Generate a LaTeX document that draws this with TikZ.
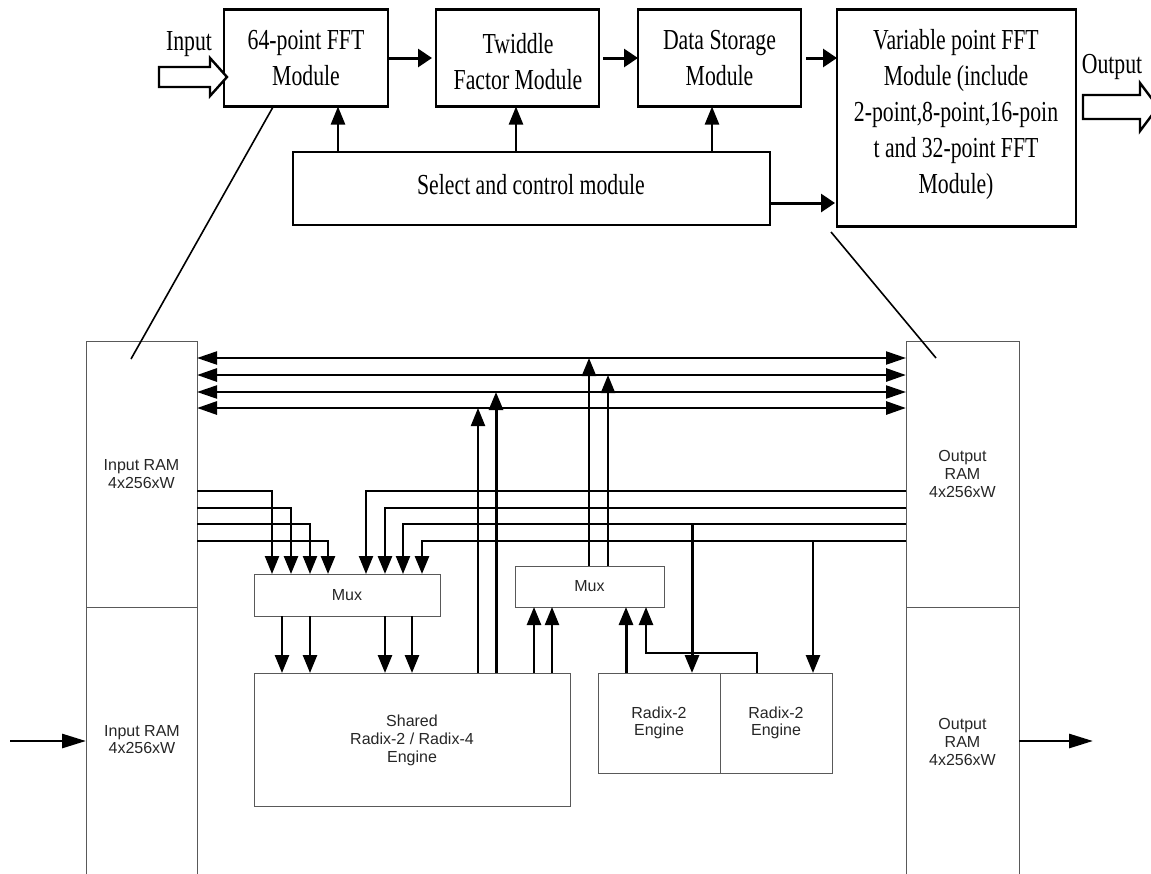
\documentclass[tikz,border=0pt]{standalone}
\usepackage{fontspec}
\usetikzlibrary{arrows.meta}
\newfontfamily\capfamily[FakeStretch=0.75]{Liberation Serif}
\newfontfamily\lowfamily{Liberation Sans}
\tikzset{
  modbox/.style={draw,line width=2.6pt,inner sep=0pt,outer sep=0pt,align=center,font=\capfamily\fontsize{29}{36}\selectfont},
  capt/.style={inner sep=0pt,align=center,font=\capfamily\fontsize{29}{36}\selectfont},
  lowbox/.style={draw=black!65,line width=1pt,inner sep=0pt,outer sep=0pt,align=center,text=black!85,font=\lowfamily\fontsize{16}{17.7}\selectfont},
  hop/.style={line width=3pt,-{Triangle[length=14pt,width=18pt]}},
  vup/.style={line width=2.4pt,-{Triangle[length=18pt,width=14pt]}},
  vin/.style={line width=#1,-{Triangle[length=18pt,width=14pt]}},
  bus/.style={line width=#1,{Triangle[length=20pt,width=13pt]}-{Triangle[length=20pt,width=13pt]}},
  ext/.style={line width=2.8pt,-{Triangle[length=24pt,width=14pt]}}
}
\begin{document}
\begin{tikzpicture}[x=1pt,y=-1pt]
\useasboundingbox (0,0) rectangle (1151,873);
% upper chain
\node[modbox,minimum width=164pt,minimum height=97pt] (fft) at (306,58) {64-point FFT\\Module};
\node[modbox,minimum width=163pt,minimum height=97pt] (twd) at (517.5,58) {};
\node[capt] (twdlab) at (518,62) {Twiddle\\Factor Module};
\node[modbox,minimum width=163pt,minimum height=97pt] (sto) at (719.5,58) {Data Storage\\Module};
\node[modbox,minimum width=239pt,minimum height=217pt] (var) at (956.5,118) {};
\node[capt] (varlab) at (956,115) {Variable point FFT\\Module (include\\2-point,8-point,16-poin\\t and 32-point FFT\\Module)};
\node[modbox,minimum width=477pt,minimum height=73pt] (sel) at (531.5,188.5) {};
\node[capt] (sellab) at (531,185) {Select and control module};
\node[capt] (inlab) at (189,44) {Input};
\node[capt] (outlab) at (1112,67) {Output};
\draw[line width=2.4pt,fill=white] (159,67) -- (210,67) -- (210,58) -- (227,77) -- (210,96) -- (210,87) -- (159,87) -- cycle;
\draw[line width=2.4pt,fill=white] (1083,95) -- (1140,95) -- (1140,83) -- (1158,107) -- (1140,131) -- (1140,119) -- (1083,119) -- cycle;
\draw[hop] (fft.east) -- +(44,0);
\draw[hop] (603,58) -- (twd.east -| sto.west);
\draw[hop] (sto.east) ++(5,0) -- (var.west |- sto.east);
\coordinate (ctla) at (338,0);
\coordinate (ctlb) at (516,0);
\coordinate (ctlc) at (712,0);
\coordinate (ctld) at (0,203);
\draw[vup] (sel.north -| ctla) -- (fft.south -| ctla);
\draw[vup] (sel.north -| ctlb) -- (twd.south -| ctlb);
\draw[vup] (sel.north -| ctlc) -- (sto.south -| ctlc);
\draw[hop,shorten >=2pt] (sel.east |- ctld) -- (var.west |- ctld);
% lower blocks
\node[lowbox,minimum width=111pt,minimum height=266pt] (inup) at (141.5,474) {Input RAM\\4x256xW};
\node[lowbox,minimum width=111pt,minimum height=270pt] (inlow) at (141.5,742) {};
\node[lowbox,draw=none] (inlowlab) at (142,739.5) {Input RAM\\4x256xW};
\node[lowbox,minimum width=113pt,minimum height=266pt] (outup) at (962.5,474) {Output\\RAM\\4x256xW};
\node[lowbox,minimum width=113pt,minimum height=270pt] (outlow) at (962.5,742) {Output\\RAM\\4x256xW};
\node[lowbox,minimum width=186pt,minimum height=42pt] (muxa) at (347,595) {Mux};
\node[lowbox,minimum width=149pt,minimum height=41pt] (muxb) at (589.5,586.5) {Mux};
\node[lowbox,minimum width=316pt,minimum height=133pt] (shr) at (412,739.5) {};
\node[lowbox,draw=none] (shrlab) at (412,740.5) {Shared\\Radix-2 / Radix-4\\Engine};
\node[lowbox,minimum width=122pt,minimum height=100pt] (rada) at (659,723) {Radix-2\\Engine};
\node[lowbox,minimum width=112pt,minimum height=100pt] (radb) at (776,723) {Radix-2\\Engine};
% zoom lines
\draw[line width=1.6pt] (273,107) -- (131,359);
\draw[line width=1.6pt] (831,232) -- (936,358);
% buses
\coordinate (busa) at (0,358);
\coordinate (busb) at (0,375);
\coordinate (busc) at (0,392);
\coordinate (busd) at (0,408);
\draw[bus=2.2pt] (inup.east |- busa) -- (outup.west |- busa);
\draw[bus=2.9pt] (inup.east |- busb) -- (outup.west |- busb);
\draw[bus=2.2pt] (inup.east |- busc) -- (outup.west |- busc);
\draw[bus=2.9pt] (inup.east |- busd) -- (outup.west |- busd);
% ram lanes
\coordinate (rama) at (0,491);
\coordinate (ramb) at (0,508);
\coordinate (ramc) at (0,524);
\coordinate (ramd) at (0,541);
\coordinate (ia) at (272,0);
\coordinate (ib) at (291,0);
\coordinate (ic) at (310,0);
\coordinate (id) at (328,0);
\coordinate (ie) at (366,0);
\coordinate (if) at (385,0);
\coordinate (ig) at (403,0);
\coordinate (ih) at (422,0);
\draw[vin=2.2pt] (inup.east |- rama) -| (muxa.north -| ia);
\draw[vin=2.6pt] (inup.east |- ramb) -| (muxa.north -| ib);
\draw[vin=2.2pt] (inup.east |- ramc) -| (muxa.north -| ic);
\draw[vin=2.6pt] (inup.east |- ramd) -| (muxa.north -| id);
\draw[vin=2.2pt] (outup.west |- rama) -| (muxa.north -| ie);
\draw[vin=2.9pt] (outup.west |- ramb) -| (muxa.north -| if);
\draw[vin=2.2pt] (outup.west |- ramc) -| (muxa.north -| ig);
\draw[vin=2.9pt] (outup.west |- ramd) -| (muxa.north -| ih);
% mux to engine
\coordinate (oa) at (282,0);
\coordinate (ob) at (310,0);
\coordinate (oc) at (385,0);
\coordinate (od) at (412,0);
\draw[vin=2.6pt] (muxa.south -| oa) -- (shr.north -| oa);
\draw[vin=2.6pt] (muxa.south -| ob) -- (shr.north -| ob);
\draw[vin=2.6pt] (muxa.south -| oc) -- (shr.north -| oc);
\draw[vin=2.6pt] (muxa.south -| od) -- (shr.north -| od);
% back to buses
\coordinate (ua) at (478,0);
\coordinate (ub) at (496,0);
\coordinate (uc) at (589,0);
\coordinate (ud) at (608,0);
\draw[vin=2.2pt] (shr.north -| ua) -- (ua |- busd);
\draw[vin=3pt] (shr.north -| ub) -- (ub |- busc);
\draw[vin=2.6pt] (muxb.north -| uc) -- (uc |- busa);
\draw[vin=2.4pt] (muxb.north -| ud) -- (ud |- busb);
% into second mux
\coordinate (ma) at (534,0);
\coordinate (mb) at (552,0);
\coordinate (mc) at (626,0);
\coordinate (md) at (646,0);
\coordinate (me) at (757,653);
\draw[vin=2.6pt] (shr.north -| ma) -- (muxb.south -| ma);
\draw[vin=2.2pt] (shr.north -| mb) -- (muxb.south -| mb);
\draw[vin=3pt] (rada.north -| mc) -- (muxb.south -| mc);
\draw[vin=2.6pt] (radb.north -| me) -- (me) -| (muxb.south -| md);
% radix inputs
\coordinate (ra) at (692,0);
\coordinate (rb) at (813,0);
\draw[vin=3pt] (ra |- ramc) -- (rada.north -| ra);
\draw[vin=2.6pt] (rb |- ramd) -- (radb.north -| rb);
% outside
\coordinate (extl) at (10,741);
\coordinate (extr) at (1093,741);
\draw[ext] (extl) -- (inlow.west |- extl);
\draw[ext] (outlow.east |- extr) -- (extr);
\end{tikzpicture}
\end{document}
